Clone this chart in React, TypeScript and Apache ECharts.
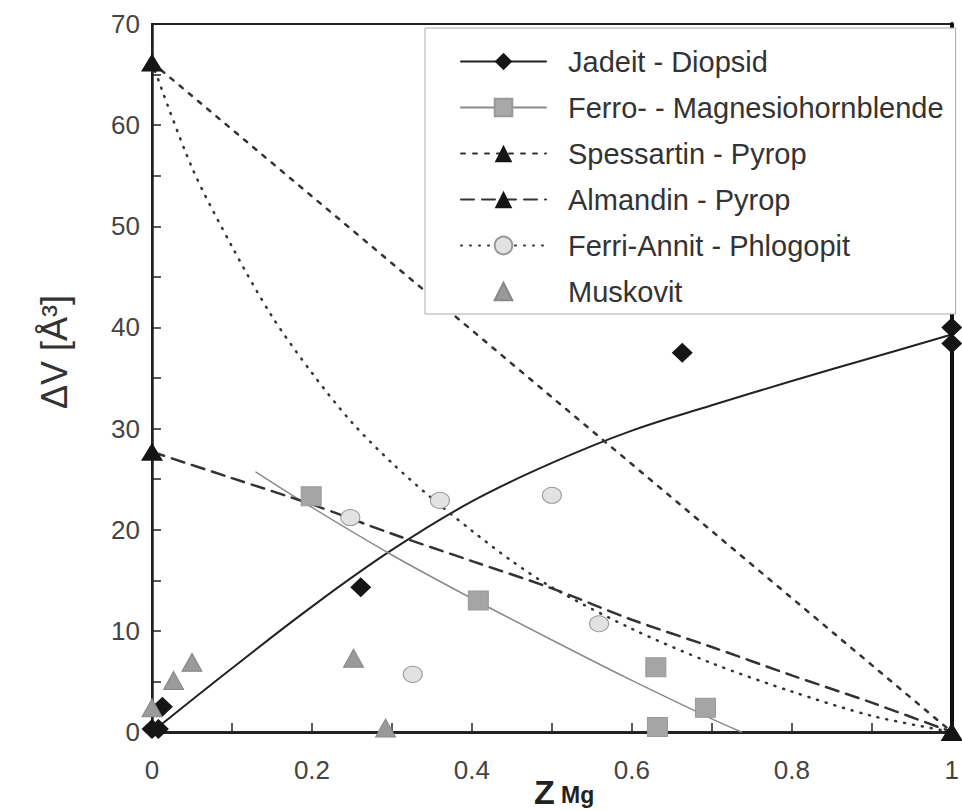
import React, { useEffect, useRef } from "react";
import * as echarts from "echarts";

// ---- data ----
const seriesNames = [
  "Jadeit - Diopsid",
  "Ferro- - Magnesiohornblende",
  "Spessartin - Pyrop",
  "Almandin - Pyrop",
  "Ferri-Annit - Phlogopit",
  "Muskovit",
];

const jadeitPoints = [[0, 0.3], [0.008, 0.3], [0.013, 2.5], [0.261, 14.3], [0.663, 37.5], [1, 40.0], [1, 38.4]];
const jadeitCurve = [[0, 0], [0.1, 6.3], [0.2, 12.4], [0.3, 18.0], [0.4, 22.8], [0.5, 26.6], [0.6, 29.8], [0.7, 32.3], [0.8, 34.7], [0.9, 37.0], [1, 39.3]];

const ferroPoints = [[0.199, 23.3], [0.408, 13.0], [0.63, 6.4], [0.632, 0.5], [0.692, 2.4]];
const ferroCurve = [[0.13, 25.7], [0.2, 22.2], [0.3, 17.5], [0.4, 13.2], [0.5, 9.1], [0.6, 5.1], [0.7, 1.3], [0.737, 0]];

const spessartinPoints = [[0, 66.2], [1, 0]];
const spessartinCurve = [[0, 66.2], [1, 0]];

const almandinPoints = [[0, 27.7], [1, 0]];
const almandinCurve = [[0, 27.7], [0.1, 25.1], [0.2, 22.5], [0.3, 19.6], [0.4, 16.9], [0.5, 14.2], [0.6, 11.1], [0.7, 8.4], [0.8, 5.6], [0.9, 2.9], [1, 0]];

const ferriPoints = [[0.248, 21.2], [0.326, 5.7], [0.36, 22.9], [0.5, 23.4], [0.559, 10.7]];
const ferriCurve = [[0, 66.2], [0.05, 55.8], [0.1, 48.0], [0.15, 41.1], [0.2, 35.5], [0.25, 30.6], [0.3, 26.6], [0.35, 23.1], [0.4, 19.9], [0.45, 16.9], [0.5, 14.3], [0.6, 10.2], [0.7, 6.8], [0.8, 4.0], [0.9, 1.6], [1, 0]];

const muskovitPoints = [[0, 2.4], [0.027, 5.1], [0.05, 6.9], [0.252, 7.3], [0.292, 0.4]];

const FONT = "Liberation Sans, Arial, sans-serif";

export default function App() {
  const ref = useRef<HTMLDivElement>(null);

  useEffect(() => {
    const chart = echarts.init(ref.current!, null, { renderer: "svg" });

    const lineSeries = (name: string, data: number[][], symbol: string, color: string, lineColor: string, width: number, type: any, border?: string, smooth = 0, lineOpacity = 1) => ({
      type: "line",
      name,
      data,
      smooth,
      showSymbol: false,
      symbol,
      symbolSize: 18,
      lineStyle: { color: lineColor, width, type, cap: "round", opacity: lineOpacity },
      itemStyle: { color, borderColor: border || color, borderWidth: border ? 1 : 0 },
      z: 2,
      silent: true,
      clip: false,
    });
    const scatterSeries = (name: string, data: number[][], symbol: string, size: any, color: string, border?: string) => ({
      type: "scatter",
      name,
      data,
      symbol,
      symbolSize: size,
      itemStyle: { color, borderColor: border || color, borderWidth: border ? 1 : 0, opacity: 1 },
      z: 3,
      silent: true,
      clip: false,
    });

    chart.setOption({
      animation: false,
      backgroundColor: "#fff",
      grid: { left: 152, right: 4, top: 24, bottom: 79, show: true, borderColor: "#222", borderWidth: 2 },
      xAxis: {
        type: "value",
        min: 0,
        max: 1,
        interval: 0.2,
        axisLine: { show: true, onZero: false, lineStyle: { color: "#222", width: 3 } },
        axisTick: { show: true, inside: true, length: 9, lineStyle: { color: "#222", width: 1.5 } },
        minorTick: { show: true, splitNumber: 2, length: 9, lineStyle: { color: "#222", width: 1.5 } },
        splitLine: { show: false },
        axisLabel: { color: "#444", fontSize: 26, fontFamily: FONT, margin: 25 },
      },
      yAxis: [
        {
          type: "value",
          min: 0,
          max: 70,
          interval: 10,
          axisLine: { show: true, onZero: false, lineStyle: { color: "#222", width: 2.5 } },
          axisTick: { show: true, inside: true, length: 9, lineStyle: { color: "#222", width: 1.5 } },
          minorTick: { show: true, splitNumber: 2, length: 9, lineStyle: { color: "#222", width: 1.5 } },
          splitLine: { show: false },
          axisLabel: { color: "#444", fontSize: 26, fontFamily: FONT, margin: 12 },
        },
        {
          type: "value",
          position: "right",
          min: 0,
          max: 70,
          interval: 10,
          axisLine: { show: true, onZero: false, lineStyle: { color: "#111", width: 4 } },
          axisTick: { show: false },
          axisLabel: { show: false },
          splitLine: { show: false },
        },
      ],
      legend: {
        data: seriesNames,
        orient: "vertical",
        left: 425,
        top: 28,
        itemWidth: 85,
        itemHeight: 22,
        itemGap: 17,
        padding: [19, 12, 8, 35],
        backgroundColor: "#fff",
        borderColor: "#aaa",
        borderWidth: 1,
        selectedMode: false,
        textStyle: { color: "#333", fontSize: 29, fontFamily: FONT, lineHeight: 27, padding: [0, 0, 0, 17] },
        z: 4,
      },
      graphic: [
        {
          type: "text",
          x: 54,
          y: 352,
          rotation: Math.PI / 2,
          style: { text: "ΔV [Å³]", fontSize: 36, fontFamily: FONT, fill: "#333", align: "center", verticalAlign: "middle" },
        },
        {
          type: "text",
          x: 534,
          y: 792,
          style: { text: "Z", fontSize: 34, fontWeight: "bold", fontFamily: FONT, fill: "#222", align: "left", verticalAlign: "middle" },
        },
        {
          type: "text",
          x: 561,
          y: 795,
          style: { text: "Mg", fontSize: 23, fontWeight: "bold", fontFamily: FONT, fill: "#222", align: "left", verticalAlign: "middle" },
        },
      ],
      series: [
        lineSeries(seriesNames[0], jadeitCurve, "diamond", "#151515", "#222", 2, "solid", undefined, 0.4),
        lineSeries(seriesNames[1], ferroCurve, "rect", "#a8a8a8", "#8a8a8a", 1.5, "solid", "#999", 0.3),
        lineSeries(seriesNames[2], spessartinCurve, "triangle", "#151515", "#333", 2.5, [4, 8]),
        lineSeries(seriesNames[3], almandinCurve, "triangle", "#151515", "#333", 2.5, [13, 8], undefined, 0.3),
        lineSeries(seriesNames[4], ferriCurve, "circle", "#e2e2e2", "#333", 2.5, [1, 8], "#999", 0.3),
        lineSeries(seriesNames[5], [], "triangle", "#9a9a9a", "#9a9a9a", 0, "solid", "#888", 0, 0),
        scatterSeries(seriesNames[0], jadeitPoints, "diamond", [21, 20], "#151515"),
        scatterSeries(seriesNames[1], ferroPoints, "rect", [20, 19], "#a5a5a5", "#999"),
        scatterSeries(seriesNames[2], spessartinPoints, "triangle", [22, 18], "#151515"),
        scatterSeries(seriesNames[3], almandinPoints, "triangle", [22, 18], "#151515"),
        scatterSeries(seriesNames[4], ferriPoints, "circle", [19, 16], "#e2e2e2", "#999"),
        scatterSeries(seriesNames[5], muskovitPoints, "triangle", [20, 18], "#9a9a9a", "#888"),
      ],
    });

    return () => chart.dispose();
  }, []);

  return (
    <div
      ref={ref}
      style={{ position: "fixed", left: 0, top: 0, width: 962, height: 811, background: "#fff" }}
    />
  );
}
